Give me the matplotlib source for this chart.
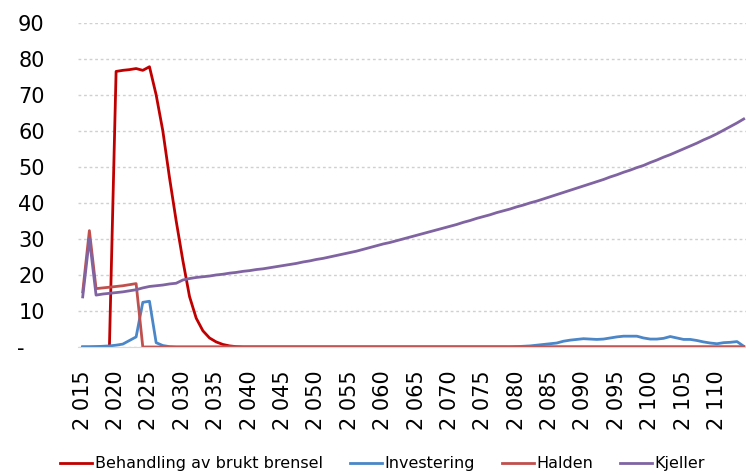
import numpy as np
import matplotlib
matplotlib.use("Agg")
import matplotlib.pyplot as plt

# data (one value per year, 2015-2114)
years = np.arange(2015, 2115)
tick_years = list(range(2015, 2111, 5))
tick_labels = ["2 %03d" % (y - 2000) for y in tick_years]

behandling = ([0, 0, 0, 0, 0,
               76.5, 76.8, 77.0, 77.3, 76.8, 77.8, 70.0, 60.0, 47.0, 35.0,
               24.0, 14.0, 8.0, 4.5, 2.5, 1.4, 0.7, 0.3, 0.1]
              + [0] * 76)

investering = ([0, 0, 0.1, 0.2, 0.3, 0.5, 0.8, 1.8, 2.8, 12.4,
                12.7, 1.2, 0.4, 0.1]
               + [0] * 51
               + [0.1, 0.2, 0.3, 0.5, 0.7, 0.9, 1.1, 1.6, 1.9, 2.1,
                  2.3, 2.2, 2.1, 2.2, 2.5, 2.8, 3.0, 3.0, 3.0, 2.5,
                  2.2, 2.2, 2.4, 2.9, 2.5, 2.1, 2.1, 1.8, 1.4, 1.1,
                  0.9, 1.2, 1.3, 1.5, 0.2])

halden = ([15.3, 32.3, 16.2, 16.4, 16.6, 16.8, 17.0, 17.3, 17.6]
          + [0] * 91)

kjeller = [13.9, 30.1, 14.4, 14.7, 14.9, 15.1, 15.3, 15.6, 15.9, 16.4,
           16.8, 17.0, 17.2, 17.5, 17.7, 18.6, 19.0, 19.3, 19.5, 19.7,
           20.0, 20.2, 20.5, 20.7, 21.0, 21.2, 21.5, 21.7, 22.0, 22.3,
           22.6, 22.9, 23.2, 23.6, 23.9, 24.3, 24.6, 25.0, 25.4, 25.8,
           26.2, 26.6, 27.1, 27.6, 28.1, 28.6, 29.0, 29.5, 30.0, 30.5,
           31.0, 31.5, 32.0, 32.5, 33.0, 33.5, 34.0, 34.6, 35.1, 35.7,
           36.2, 36.7, 37.3, 37.8, 38.3, 38.9, 39.4, 40.0, 40.5, 41.1,
           41.7, 42.3, 42.9, 43.5, 44.1, 44.7, 45.3, 45.9, 46.5, 47.2,
           47.8, 48.5, 49.1, 49.8, 50.4, 51.2, 51.9, 52.7, 53.4, 54.2,
           55.0, 55.8, 56.6, 57.5, 58.3, 59.2, 60.2, 61.2, 62.2, 63.3]

fig = plt.figure(figsize=(7.46, 4.75), dpi=100)
ax = fig.add_axes([0.1046, 0.2695, 0.895, 0.6825])

ax.plot(years, behandling, color="#C00000", lw=2.0, label="Behandling av brukt brensel")
ax.plot(years, investering, color="#4A86C8", lw=2.0, label="Investering")
ax.plot(years, halden, color="#C0504D", lw=2.0, label="Halden")
ax.plot(years, kjeller, color="#8064A2", lw=2.0, label="Kjeller")

ax.set_xlim(2014.3, 2114.3)
ax.set_ylim(0, 90)

ax.set_yticks(range(0, 91, 10))
ax.set_yticklabels(["-   "] + [str(v) for v in range(10, 91, 10)], fontsize=15)
ax.set_xticks(tick_years)
ax.set_xticklabels(tick_labels, rotation=90, fontsize=15)
ax.tick_params(axis="y", length=0, pad=24)
ax.tick_params(axis="x", length=0, pad=17)

ax.grid(axis="y", color="#D0D0D0", linestyle=(0, (2, 2)), lw=1)
ax.set_axisbelow(True)
for s in ["top", "right", "left"]:
    ax.spines[s].set_visible(False)
ax.spines["bottom"].set_color("#D9D9D9")

fig.legend(loc="center", bbox_to_anchor=(0.513, 0.024), ncol=4, frameon=False,
           fontsize=11.5, handlelength=2.0, handletextpad=0.15, columnspacing=1.7,
           borderpad=0.1)

fig.savefig("out.png", dpi=100)
